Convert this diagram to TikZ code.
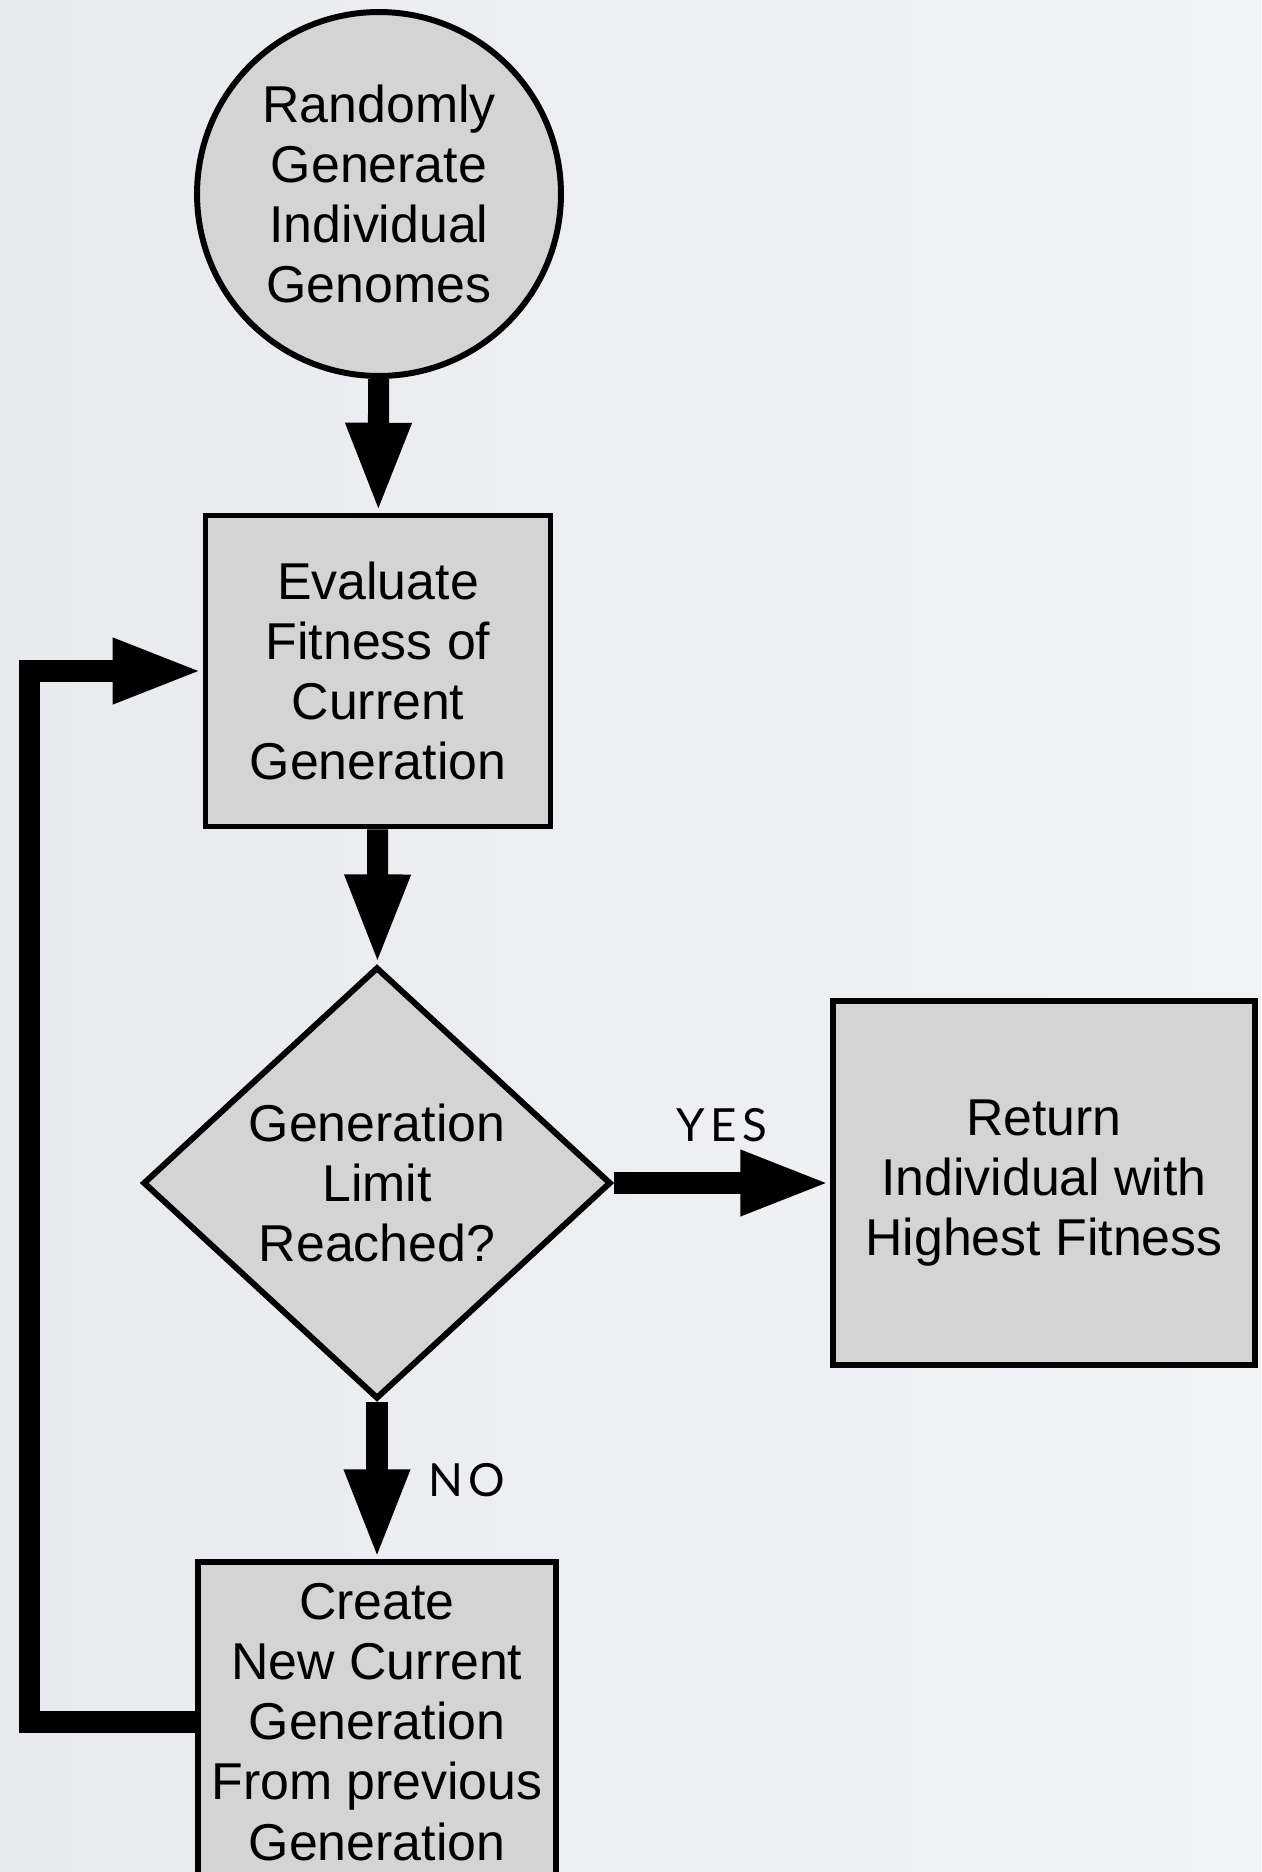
\documentclass[tikz,border=0pt]{standalone}
\usepackage{fontspec}
\setmainfont{Liberation Sans}
\newfontfamily\answerfont[LetterSpace=12]{Lato}
\usetikzlibrary{shapes.geometric,arrows.meta,positioning}
\definecolor{boxgray}{HTML}{D4D4D4}
\definecolor{bgleft}{HTML}{E9EAEE}
\definecolor{bgright}{HTML}{F2F3F5}

\begin{document}
\begin{tikzpicture}[
    x=0.02cm, y=-0.02cm,
    every node/.style={font=\fontsize{29.5}{34.2}\selectfont, align=center},
    startnode/.style={circle, draw, fill=boxgray, line width=3.4pt, minimum size=7.28cm, inner sep=0pt},
    stepbox/.style={rectangle, draw, fill=boxgray, line width=3.2pt, inner sep=0pt},
    decision/.style={diamond, draw, fill=boxgray, line width=3.4pt, inner sep=0pt,
      minimum width=9.36cm, minimum height=8.64cm},
    flow/.style={line width=12pt, -{Triangle[length=1.8cm, width=1.2cm]}},
    answer/.style={font=\answerfont\fontsize{26}{30}\selectfont}]
    \clip (0,0) rectangle (1261,1872);
    \shade [left color=bgleft, right color=bgright] (0,0) rectangle (1261,1872);

    \node [startnode] (init) at (379,194) {Randomly\\Generate\\Individual\\Genomes};
    \node [stepbox, minimum width=6.9cm, minimum height=6.22cm] (eval) at (378,671)
      {Evaluate\\Fitness of\\Current\\Generation};
    \node [decision] (limit) at (377,1183) {Generation\\Limit\\Reached?};
    \node [stepbox, minimum width=8.44cm, minimum height=7.28cm] (best) at (1044,1183)
      {Return\\Individual with\\Highest Fitness};
    \node [stepbox, minimum width=7.16cm, minimum height=6.4cm] (breed) at (377,1722)
      {Create\\New Current\\Generation\\From previous\\Generation};

    \draw [flow] (init) -- (eval);
    \draw [flow] (eval) -- (limit);
    \draw [flow] (limit.east) -- node [answer, above=0.5cm] (yes) {YES} (best.west);
    \draw [flow] (limit.south) -- node [answer, right=0.7cm] (no) {NO} (breed.north);
    % back to the evaluation step
    \draw [flow] (breed.west) -- ++(-166,0) |- (eval.west);
  \end{tikzpicture}
\end{document}
